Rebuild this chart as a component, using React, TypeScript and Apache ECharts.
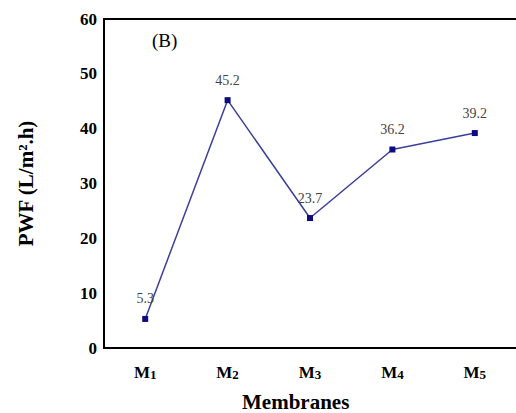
import React, { useEffect, useRef } from "react";
import * as echarts from "echarts";

const categories = ["1", "2", "3", "4", "5"];
const pwfValues = [5.3, 45.2, 23.7, 36.2, 39.2];
const yTicks = [0, 10, 20, 30, 40, 50, 60];

const SERIF = "Liberation Serif";

export default function App() {
  const ref = useRef<HTMLDivElement>(null);
  useEffect(() => {
    document.body.style.margin = "0";
    if (!ref.current) return;
    const chart = echarts.init(ref.current, null, { renderer: "svg" });
    chart.setOption({
      animation: false,
      textStyle: { fontFamily: SERIF },
      grid: { left: 104, top: 19, width: 419, height: 329 },
      xAxis: [
        {
          type: "category",
          data: categories,
          boundaryGap: true,
          axisLine: { show: true, lineStyle: { color: "#000", width: 2 } },
          axisTick: { show: false },
          axisLabel: {
            margin: 15,
            formatter: (v: string) => `{m|M}{s|${v}}`,
            rich: {
              m: { fontFamily: SERIF, fontWeight: "bold", fontSize: 17, color: "#000" },
              s: { fontFamily: SERIF, fontWeight: "bold", fontSize: 13, color: "#000", padding: [5, 0, 0, 0] },
            },
          },
          splitLine: { show: false },
        },
        {
          type: "category",
          position: "top",
          data: categories,
          axisLine: { show: true, lineStyle: { color: "#000", width: 2 } },
          axisTick: { show: false },
          axisLabel: { show: false },
        },
      ],
      yAxis: {
        type: "value",
        min: 0,
        max: 60,
        interval: 10,
        axisLine: { show: true, lineStyle: { color: "#000", width: 2 } },
        axisTick: { show: false },
        splitLine: { show: false },
        axisLabel: {
          margin: 7,
          fontFamily: SERIF,
          fontWeight: "bold",
          fontSize: 17,
          color: "#000",
          formatter: (v: number) => (yTicks.includes(v) ? String(v) : ""),
        },
        name: "PWF (L/m².h)",
        nameLocation: "middle",
        nameGap: 68,
        nameTextStyle: { fontFamily: SERIF, fontWeight: "bold", fontSize: 21, color: "#000" },
      },
      graphic: [
        {
          type: "text",
          left: 242,
          top: 391,
          style: { text: "Membranes", fontFamily: SERIF, fontWeight: "bold", fontSize: 21, fill: "#000" },
        },
        {
          type: "text",
          left: 152,
          top: 31,
          style: { text: "(B)", fontFamily: SERIF, fontSize: 19, fill: "#000" },
        },
      ],
      series: [
        {
          type: "line",
          data: pwfValues,
          symbol: "rect",
          symbolSize: 6,
          lineStyle: { color: "#3a3f9c", width: 1.5 },
          itemStyle: { color: "#0c0c80" },
          label: {
            show: true,
            position: "top",
            distance: 10,
            fontFamily: SERIF,
            fontSize: 14,
            color: "#444",
          },
        },
      ],
    });
    return () => chart.dispose();
  }, []);
  return <div ref={ref} style={{ width: 516, height: 413 }} />;
}
